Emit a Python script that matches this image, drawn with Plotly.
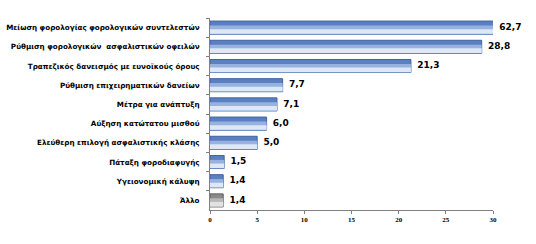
import plotly.graph_objects as go
import numpy as np

categories = [
    "Μείωση φορολογίας φορολογικών συντελεστών",
    "Ρύθμιση φορολογικών  ασφαλιστικών οφειλών",
    "Τραπεζικός δανεισμός με ευνοϊκούς όρους",
    "Ρύθμιση επιχειρηματικών δανείων",
    "Μέτρα για ανάπτυξη",
    "Αύξηση κατώτατου μισθού",
    "Ελεύθερη επιλογή ασφαλιστικής κλάσης",
    "Πάταξη φοροδιαφυγής",
    "Υγειονομική κάλυψη",
    "Άλλο",
]
values = [62.7, 28.8, 21.3, 7.7, 7.1, 6.0, 5.0, 1.5, 1.4, 1.4]
x_ticks = [0, 5, 10, 15, 20, 25, 30]
x_max = 30

dark = ["#5B80C2"] * 9 + ["#8A8A8A"]
mid = ["#98B2DF"] * 9 + ["#B8B8B8"]
light = ["#DDE7F6"] * 9 + ["#E2E2E2"]
edge = ["#3F63A0"] * 9 + ["#606060"]

labels = ["  " + f"{v:.1f}".replace(".", ",") for v in values]

fig = go.Figure()
fig.add_trace(go.Bar(
    y=categories, x=values, orientation="h",
    marker=dict(color=dark, line=dict(color=edge, width=1)),
    width=0.68, showlegend=False, hoverinfo="skip",
))
fig.add_trace(go.Bar(
    y=categories, x=values, orientation="h",
    marker=dict(color=mid, line=dict(width=0)),
    width=0.44, offset=-0.11, showlegend=False, hoverinfo="skip",
))
fig.add_trace(go.Bar(
    y=categories, x=values, orientation="h",
    marker=dict(color=light, line=dict(width=0)),
    width=0.24, offset=0.08, showlegend=False, hoverinfo="skip",
))
fig.add_trace(go.Scatter(
    y=categories, x=np.minimum(values, x_max), mode="text",
    text=labels, textposition="middle right",
    textfont=dict(family="DejaVu Sans", size=9, color="#000000", weight="bold"),
    cliponaxis=False, showlegend=False, hoverinfo="skip",
))

fig.update_layout(
    width=536, height=244,
    margin=dict(l=210, r=43, t=18, b=34),
    paper_bgcolor="white", plot_bgcolor="white",
    barmode="overlay",
    font=dict(family="DejaVu Sans", color="#000000"),
)
fig.update_xaxes(
    range=[0, x_max], tickvals=x_ticks, ticktext=[str(t) for t in x_ticks],
    showgrid=False, zeroline=False, showline=True, linecolor="#808080", linewidth=1,
    ticks="outside", ticklen=3, tickcolor="#808080",
    tickfont=dict(family="Liberation Serif", size=7, color="#000000", weight="bold"),
    automargin=False,
)
fig.update_yaxes(
    autorange="reversed", showgrid=False, showline=True, linecolor="#808080", linewidth=1,
    ticks="outside", ticklen=3, tickcolor="#808080", tickson="boundaries",
    tickfont=dict(family="DejaVu Sans", size=7.2, color="#000000", weight="bold"),
    ticklabelstandoff=8, automargin=False,
)

fig.write_html("out.html")
